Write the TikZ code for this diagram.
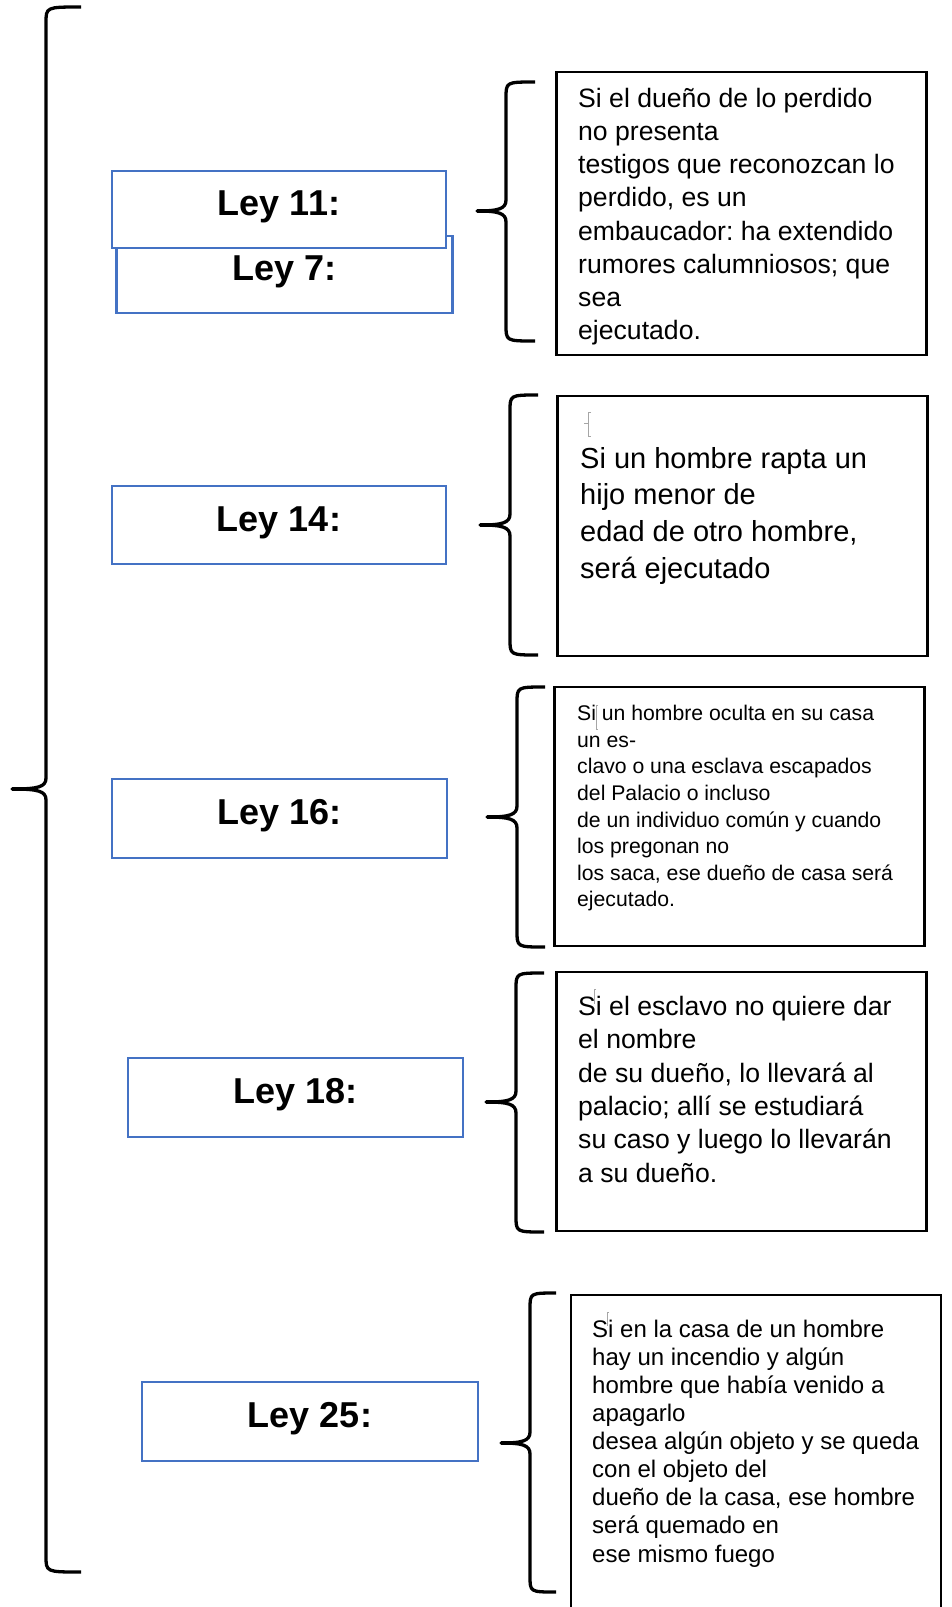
\documentclass[tikz,border=0pt]{standalone}
\usepackage{fontspec}
\setmainfont{Liberation Sans}
\frenchspacing
\definecolor{lawblue}{RGB}{68,114,196}
\tikzset{
  lawbox/.style={draw=lawblue, line width=2.2pt, fill=white, inner sep=0pt,
    font=\bfseries\fontsize{36}{40}\selectfont, text height=25pt, text depth=13pt},
  txtbox/.style={draw=black, line width=2.6pt, inner sep=0pt},
  bodytext/.style={anchor=north west, inner sep=0pt, align=left, text=black},
  bracepath/.style={draw=black, line width=3.3pt, line join=round},
  bracestub/.style={draw=black, line width=4.6pt},
  cursormark/.style={draw=black!35, line width=0.6pt}
}
% #1 hook x, #2 vertical x, #3 tip x, #4 top y, #5 tip y, #6 bottom y
\newcommand\lawbrace[6]{%
  \draw[bracepath] (#1,#4) .. controls (#2,#4) and (#2,#4) .. (#2,#4+16)
    -- (#2,#5-11) .. controls (#2,#5-2) and (#2-8,#5) .. (#3,#5)
    .. controls (#2-8,#5) and (#2,#5+2) .. (#2,#5+11)
    -- (#2,#6-16) .. controls (#2,#6) and (#2,#6) .. (#1,#6);
  \draw[bracestub] (#3,#5) -- (#2-12,#5);}
\begin{document}
\begin{tikzpicture}[x=1pt,y=-1pt]
\useasboundingbox (0,0) rectangle (951,1607);
\fill[white] (0,0) rectangle (951,1607);
\clip (0,0) rectangle (951,1607);

% big brace
\lawbrace{81}{46}{12}{7}{789}{1572}

% Ley boxes
\node[lawbox, minimum width=336pt, minimum height=77pt] (b7) at (284.5,274.5) {Ley 7:};
\node[lawbox, minimum width=334pt, minimum height=77pt] (b11) at (279,209.5) {Ley 11:};
\node[lawbox, minimum width=334pt, minimum height=78pt] (b14) at (279,525) {Ley 14:};
\node[lawbox, minimum width=335pt, minimum height=79pt] (b16) at (279.5,818.5) {Ley 16:};
\node[lawbox, minimum width=335pt, minimum height=79pt] (b18) at (295.5,1097.5) {Ley 18:};
\node[lawbox, minimum width=336pt, minimum height=79pt] (b25) at (310,1421.5) {Ley 25:};

% small braces
\lawbrace{535}{506}{477}{82}{211}{341}
\lawbrace{538}{510}{480}{395}{525}{655}
\lawbrace{545}{517}{487}{687}{817}{947}
\lawbrace{544}{516}{486}{973}{1102}{1232}
\lawbrace{556}{530}{501}{1293}{1443}{1592}

% text boxes
\node[txtbox, minimum width=370pt, minimum height=283pt] (r1) at (741.5,213.5) {};
\node[txtbox, minimum width=370pt, minimum height=260pt] (r2) at (742.5,526) {};
\node[txtbox, minimum width=370pt, minimum height=259pt] (r3) at (739.5,816.5) {};
\node[txtbox, minimum width=370pt, minimum height=259pt] (r4) at (741.5,1101.5) {};
\node[txtbox, minimum width=370pt, minimum height=330pt] (r5) at (756,1460) {};

\node[bodytext, font=\fontsize{26.6}{33.2}\selectfont] (t1) at (578,83) {\rule{0pt}{24pt}Si el dueño de lo perdido\\no presenta\\testigos que reconozcan lo\\perdido, es un\\embaucador: ha extendido\\rumores calumniosos; que\\sea\\ejecutado.};
\node[bodytext, font=\fontsize{29}{36.7}\selectfont] (t2) at (580,444) {\rule{0pt}{24pt}Si un hombre rapta un\\hijo menor de\\edad de otro hombre,\\será ejecutado};
\node[bodytext, font=\fontsize{21.2}{26.6}\selectfont] (t3) at (577,696.5) {\rule{0pt}{24pt}Si un hombre oculta en su casa\\un es-\\clavo o una esclava escapados\\del Palacio o incluso\\de un individuo común y cuando\\los pregonan no\\los saca, ese dueño de casa será\\ejecutado.};
\node[bodytext, font=\fontsize{26.6}{33.4}\selectfont] (t4) at (578,991) {\rule{0pt}{24pt}Si el esclavo no quiere dar\\el nombre\\de su dueño, lo llevará al\\palacio; allí se estudiará\\su caso y luego lo llevarán\\a su dueño.};
\node[bodytext, font=\fontsize{24}{28.1}\selectfont] (t5) at (592,1313) {\rule{0pt}{24pt}Si en la casa de un hombre\\hay un incendio y algún\\hombre que había venido a\\apagarlo\\desea algún objeto y se queda\\con el objeto del\\dueño de la casa, ese hombre\\será quemado en\\ese mismo fuego};

% faint text-cursor marks
\draw[cursormark] (591,412) -- (588,412) -- (588,436) -- (591,436) (584,423) -- (588,423);
\draw[cursormark] (598,705) -- (596,705) -- (596,729) -- (598,729);
\draw[cursormark] (596,989) -- (594,989) -- (594,1004);
\draw[cursormark] (609,1312) -- (607,1312) -- (607,1326);
\end{tikzpicture}
\end{document}
